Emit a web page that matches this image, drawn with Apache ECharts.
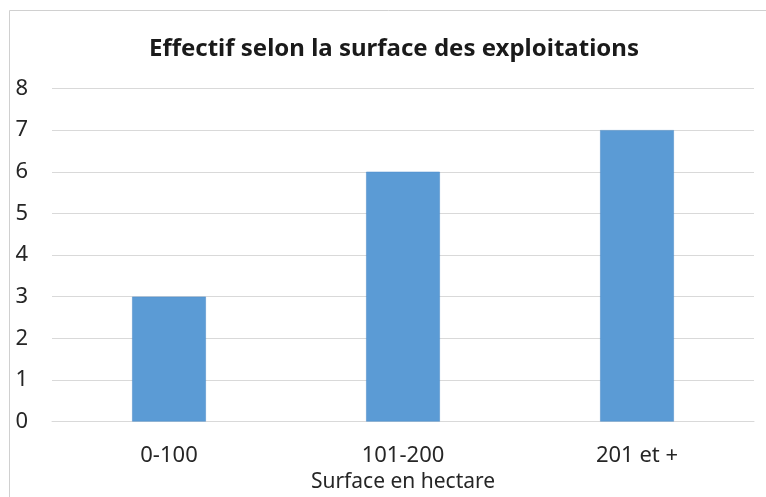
<!DOCTYPE html>
<html>
<head>
<meta charset="utf-8">
<script src="https://cdn.jsdelivr.net/npm/echarts@6/dist/echarts.min.js"></script>
<style>
html,body{margin:0;padding:0;background:#fff;}
#chart{width:766px;height:497px;}
</style>
</head>
<body>
<div id="chart"></div>
<script>
const titleText = "Effectif selon la surface des exploitations";
const categories = ["0-100", "101-200", "201 et +"];
const values = [3, 6, 7];
const xAxisName = "Surface en hectare";
const yTicks = [0, 1, 2, 3, 4, 5, 6, 7, 8];

const font = "'Noto Sans', sans-serif";
const chart = echarts.init(document.getElementById('chart'), null, {renderer: 'canvas'});
chart.setOption({
  animation: false,
  backgroundColor: '#ffffff',
  graphic: [{
    type: 'rect',
    shape: {x: 9.5, y: 10.5, width: 800, height: 600},
    style: {fill: 'none', stroke: '#d0d0d0', lineWidth: 1},
    silent: true
  }],
  title: {
    text: titleText,
    left: 144,
    top: 32,
    textStyle: {fontFamily: font, fontWeight: 'bold', fontSize: 24, color: '#1a1a1a'}
  },
  grid: {left: 52, right: 12, top: 88.5, bottom: 75.5, containLabel: false, outerBoundsMode: 'none'},
  xAxis: {
    type: 'category',
    data: categories,
    name: xAxisName,
    nameLocation: 'middle',
    nameGap: 50,
    nameTextStyle: {fontFamily: font, fontSize: 21, color: '#262626'},
    axisLine: {lineStyle: {color: '#d9d9d9', width: 1}},
    axisTick: {show: false},
    axisLabel: {fontFamily: font, fontSize: 22, color: '#262626', margin: 23}
  },
  yAxis: {
    type: 'value',
    min: yTicks[0],
    max: yTicks[yTicks.length - 1],
    interval: 1,
    axisLine: {show: false},
    axisTick: {show: false},
    splitLine: {lineStyle: {color: '#d9d9d9', width: 1}},
    axisLabel: {fontFamily: font, fontSize: 22, color: '#262626', margin: 24}
  },
  series: [{
    type: 'bar',
    data: values,
    barWidth: '31.5%',
    itemStyle: {color: '#5b9bd5', borderColor: '#4a8bc8', borderWidth: 0.5}
  }]
});
</script>
</body>
</html>
